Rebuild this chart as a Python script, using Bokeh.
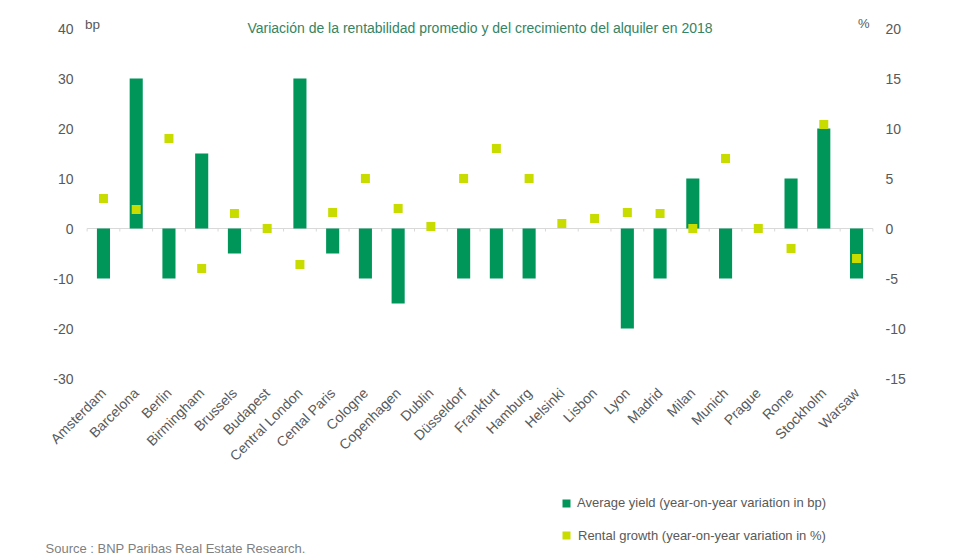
import math
from bokeh.plotting import figure
from bokeh.layouts import column
from bokeh.models import (Range1d, LinearAxis, FixedTicker, Label, Legend,
                          LegendItem, ColumnDataSource)
from bokeh.embed import file_html
from bokeh.resources import INLINE

# ---------------- data ----------------
cities = ["Amsterdam", "Barcelona", "Berlin", "Birmingham", "Brussels", "Budapest",
          "Central London", "Cental Paris", "Cologne", "Copenhagen", "Dublin",
          "Düsseldorf", "Frankfurt", "Hamburg", "Helsinki", "Lisbon", "Lyon",
          "Madrid", "Milan", "Munich", "Prague", "Rome", "Stockholm", "Warsaw"]
avg_yield_bp = [-10, 30, -10, 15, -5, 0, 30, -5, -10, -15, 0, -10, -10, -10,
                0, 0, -20, -10, 10, -10, 0, 10, 20, -10]
rental_growth_pct = [3.0, 1.9, 9.0, -4.0, 1.5, 0.0, -3.6, 1.6, 5.0, 2.0, 0.2, 5.0,
                     8.0, 5.0, 0.5, 1.0, 1.6, 1.5, 0.0, 7.0, 0.0, -2.0, 10.4, -3.0]
left_ticks = [-30, -20, -10, 0, 10, 20, 30, 40]
right_ticks = [-15, -10, -5, 0, 5, 10, 15, 20]

title_text = "Variación de la rentabilidad promedio y del crecimiento del alquiler en 2018"
legend_yield = "Average yield (year-on-year variation in bp)"
legend_rent = "Rental growth (year-on-year variation in %)"
source_text = "Source : BNP Paribas Real Estate Research."

GREEN = "#00965A"
YELLOW = "#C8DC00"
GREY = "#595959"
FONT = "Liberation Sans"

# ---------------- layout constants (pixels) ----------------
W, H_MAIN, H_FOOT = 980, 480, 80
FL, FR = 40, 960            # frame left / right (shared by both figures)
CAT_L, CAT_R = 86.6, 872.4  # extent of the category band
TOP_PAD = 20                # frame room above the "40" tick
PLOT_TOP, PLOT_BOT = 28, 378  # pixel rows of the top and bottom ticks

n = len(cities)
ppc = (CAT_R - CAT_L) / n
ppu = (PLOT_BOT - PLOT_TOP) / (left_ticks[-1] - left_ticks[0])
ratio = (right_ticks[-1] - right_ticks[0]) / (left_ticks[-1] - left_ticks[0])
head = TOP_PAD / ppu

idx = list(range(n))
src = ColumnDataSource(dict(x=idx, city=cities, yld=avg_yield_bp, rg=rental_growth_pct))

# ---------------- main chart ----------------
p = figure(width=W, height=H_MAIN, output_backend="svg", toolbar_location=None,
           x_range=Range1d(-0.5 - (CAT_L - FL) / ppc, n - 0.5 + (FR - CAT_R) / ppc),
           y_range=Range1d(left_ticks[0], left_ticks[-1] + head),
           min_border_left=FL, min_border_right=W - FR,
           min_border_top=PLOT_TOP - TOP_PAD, min_border_bottom=H_MAIN - PLOT_BOT)
p.extra_y_ranges = {"pct": Range1d(right_ticks[0], right_ticks[-1] + head * ratio)}
p.outline_line_color = None
p.grid.visible = False
p.background_fill_color = "white"
p.border_fill_color = "white"

def style_axis(ax, standoff):
    ax.axis_line_color = None
    ax.major_tick_line_color = None
    ax.minor_tick_line_color = None
    ax.major_tick_out = 0
    ax.major_tick_in = 0
    ax.minor_tick_out = 0
    ax.major_label_standoff = standoff
    ax.major_label_text_font = FONT
    ax.major_label_text_font_size = "14px"
    ax.major_label_text_color = GREY

ya = p.yaxis[0]
ya.ticker = FixedTicker(ticks=left_ticks)
ya.major_label_overrides = {t: str(t) for t in left_ticks}
style_axis(ya, -(73 - FL))

ra = LinearAxis(y_range_name="pct", ticker=FixedTicker(ticks=right_ticks))
ra.major_label_overrides = {t: str(t) for t in right_ticks}
style_axis(ra, 885 - FR)
p.add_layout(ra, "right")

xa = p.xaxis[0]
xa.ticker = FixedTicker(ticks=idx)
xa.major_label_overrides = {i: c for i, c in zip(idx, cities)}
xa.major_label_orientation = math.pi / 4
style_axis(xa, 12)

# zero line with category boundary ticks
bounds = [i - 0.5 for i in range(n + 1)]
p.segment(x0=[-0.5], x1=[n - 0.5], y0=[0], y1=[0],
          line_color="#D9D9D9", line_width=1, level="underlay")
p.segment(x0=bounds, x1=bounds, y0=[0] * len(bounds), y1=[-0.6] * len(bounds),
          line_color="#D9D9D9", line_width=1, level="underlay")

bars = p.vbar(x="x", top="yld", bottom=0, width=0.4, source=src,
              fill_color=GREEN, line_color=None)
pts = p.scatter(x="x", y="rg", marker="square", size=9, source=src,
                y_range_name="pct", fill_color=YELLOW, line_color=None)

p.add_layout(Label(x=(n - 1) / 2, y=left_ticks[-1], y_offset=1,
                   text=title_text, text_align="center", text_baseline="alphabetic",
                   text_font=FONT, text_font_size="14px", text_color="#348463"))
p.add_layout(Label(x=-0.5, y=left_ticks[-1], x_offset=-2, y_offset=4,
                   text="bp", text_align="left", text_baseline="alphabetic",
                   text_font=FONT, text_font_size="13.5px", text_color=GREY))
p.add_layout(Label(x=n - 0.5, y=left_ticks[-1], x_offset=-15, y_offset=5,
                   text="%", text_align="left", text_baseline="alphabetic",
                   text_font=FONT, text_font_size="13px", text_color=GREY))

# ---------------- footer: legend + source ----------------
f = figure(width=W, height=H_FOOT, output_backend="svg", toolbar_location=None,
           x_range=Range1d(FL, FR), y_range=Range1d(H_MAIN + H_FOOT, H_MAIN),
           x_axis_location=None, y_axis_location=None,
           min_border_left=FL, min_border_right=W - FR,
           min_border_top=0, min_border_bottom=0)
f.outline_line_color = None
f.grid.visible = False
f.background_fill_color = "white"
f.border_fill_color = "white"

# legend proxies (same data and style as the chart's series, not drawn)
lb = f.vbar(x="x", top="yld", bottom=0, width=0.4, source=src,
            fill_color=GREEN, line_color=None, visible=False)
lp = f.scatter(x="x", y="rg", marker="square", size=9, source=src,
               fill_color=YELLOW, line_color=None, visible=False)

def make_legend(item, loc, glyph, standoff):
    return Legend(items=[item], location=loc, orientation="vertical",
                  glyph_width=glyph, glyph_height=glyph, label_standoff=standoff,
                  padding=0, margin=0, spacing=0, border_line_color=None,
                  background_fill_alpha=0, label_text_font=FONT,
                  label_text_font_size="13px", label_text_color=GREY,
                  label_height=10, click_policy="none")

f.add_layout(make_legend(LegendItem(label=legend_yield, renderers=[lb]),
                         (521, 50), 10, 6))
f.add_layout(make_legend(LegendItem(label=legend_rent, renderers=[lp]),
                         (516, 15), 20, 2))
f.add_layout(Label(x=45, y=548, text=source_text, text_align="left",
                   text_baseline="middle", text_font=FONT, text_font_size="13px",
                   text_color="#7F7F7F"))

layout = column(p, f, spacing=0)
open("out.html", "w").write(file_html(layout, INLINE))
